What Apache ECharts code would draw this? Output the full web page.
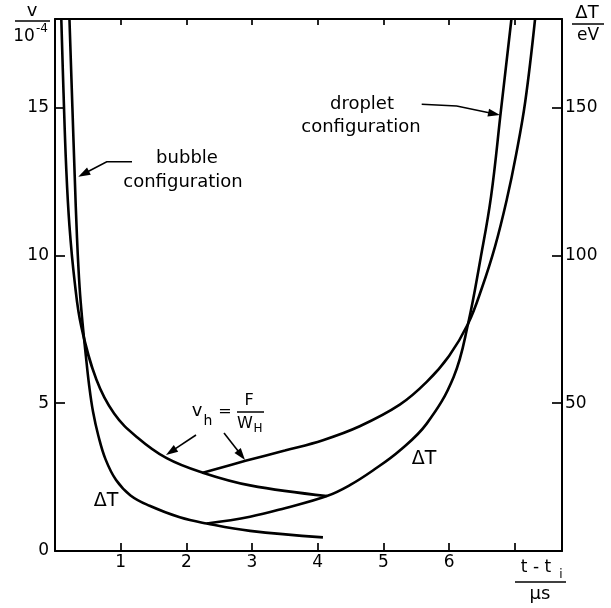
<!DOCTYPE html>
<html>
<head>
<meta charset="utf-8">
<script src="https://cdn.jsdelivr.net/npm/echarts@6/dist/echarts.min.js"></script>
<style>
  html, body { margin: 0; padding: 0; background: #fff; }
  #chart { width: 611px; height: 608px; }
</style>
</head>
<body>
<div id="chart"></div>
<script>
// Time axis t - t_i in microseconds; v in units of 1e-4, ΔT in eV.

// Bubble configuration: hole velocity v_h = F / W_H
const bubbleVhT = [0.096, 0.13, 0.17, 0.22, 0.30, 0.40, 0.63, 0.90, 1.25, 1.70, 2.25, 2.97, 4.14];
const bubbleVh  = [18, 15.5, 13, 11, 9.1, 7.6, 5.8, 4.65, 3.85, 3.14, 2.65, 2.22, 1.86];

// Bubble configuration: temperature rise ΔT (eV)
const bubbleDtT = [0.22, 0.265, 0.30, 0.335, 0.375, 0.42, 0.47, 0.52, 0.58, 0.66, 0.77, 0.93, 1.15, 1.44, 1.90, 2.31, 2.97, 4.08];
const bubbleDt  = [180, 150, 127, 106, 89, 77, 66, 56, 47, 39, 31, 24, 18.8, 15.3, 11.4, 9.3, 6.8, 4.6];

// Droplet configuration: hole velocity v_h
const dropletVhT = [2.25, 2.90, 3.50, 4.08, 4.64, 5.25, 5.66, 6.00, 6.29, 6.50, 6.70, 6.88, 7.02, 7.16, 7.31];
const dropletVh  = [2.65, 3.05, 3.40, 3.75, 4.22, 4.95, 5.72, 6.60, 7.69, 8.9, 10.3, 11.9, 13.4, 15.2, 18];

// Droplet configuration: temperature rise ΔT (eV)
const dropletDtT = [2.31, 2.97, 3.50, 4.14, 4.49, 4.85, 5.25, 5.66, 6.07, 6.29, 6.48, 6.64, 6.79, 6.95];
const dropletDt  = [9.3, 11.6, 14.5, 18.6, 22.3, 27.4, 34, 43.1, 58.9, 76.9, 99, 120, 149, 180];

// Tick labels
const timeTickLabels = [1, 2, 3, 4, 5, 6];
const vTickLabels = [0, 5, 10, 15];
const dtTickLabels = [50, 100, 150];

const FONT = 'DejaVu Sans';
const INK = '#000';

function pairs(xs, ys) { return xs.map((x, i) => [x, ys[i]]); }

function curve(name, xs, ys, yAxisIndex) {
  return {
    name, type: 'line', xAxisIndex: 0, yAxisIndex,
    data: pairs(xs, ys),
    smooth: 0.4,
    showSymbol: false, silent: true,
    lineStyle: { color: INK, width: 2.6 },
    z: 3
  };
}

function txt(text, x, y, size, align) {
  return {
    type: 'text', x, y, silent: true,
    style: { text, fontSize: size, fontFamily: FONT, fill: INK,
             textAlign: align || 'center', textVerticalAlign: 'middle' }
  };
}

function rule(x1, y1, x2, y2, w) {
  return { type: 'line', silent: true,
           shape: { x1, y1, x2, y2 },
           style: { stroke: INK, lineWidth: w || 1.5 } };
}

// Polyline ending in a filled arrowhead at its last point
function arrow(points) {
  const tip = points[points.length - 1];
  const from = points[points.length - 2];
  const dx = tip[0] - from[0], dy = tip[1] - from[1];
  const L = Math.hypot(dx, dy), ux = dx / L, uy = dy / L;
  const len = 12, w = 4;
  const bx = tip[0] - ux * len, by = tip[1] - uy * len;
  return [
    { type: 'polyline', silent: true,
      shape: { points: points.slice(0, -1).concat([[bx + ux * 2, by + uy * 2]]) },
      style: { stroke: INK, lineWidth: 1.6, fill: null } },
    { type: 'polygon', silent: true,
      shape: { points: [tip, [bx - uy * w, by + ux * w], [bx + uy * w, by - ux * w]] },
      style: { fill: INK } }
  ];
}

const chart = echarts.init(document.getElementById('chart'), null, { renderer: 'canvas' });

const axisLine = { show: true, onZero: false, lineStyle: { color: INK, width: 2 } };
const tickStyle = { color: INK, width: 1.7 };

chart.setOption({
  animation: false,
  backgroundColor: '#fff',
  grid: { left: 55, right: 49, top: 19, bottom: 57 },
  xAxis: [
    {
      type: 'value', position: 'bottom', min: 0, max: 7.72, interval: 1,
      axisLine, splitLine: { show: false },
      axisTick: { show: true, inside: true, length: 8, lineStyle: tickStyle },
      axisLabel: {
        color: INK, fontFamily: FONT, fontSize: 17, margin: 3,
        formatter: v => timeTickLabels.includes(v) ? String(v) : ''
      }
    },
    {
      type: 'value', position: 'top', min: 0, max: 7.72, interval: 1,
      axisLine, splitLine: { show: false },
      axisTick: { show: true, inside: true, length: 6, lineStyle: tickStyle },
      axisLabel: { show: false }
    }
  ],
  yAxis: [
    {
      type: 'value', position: 'left', min: 0, max: 18, interval: 5,
      axisLine, splitLine: { show: false },
      axisTick: { show: true, inside: true, length: 10, lineStyle: tickStyle },
      axisLabel: {
        color: INK, fontFamily: FONT, fontSize: 17, margin: 6,
        formatter: v => vTickLabels.includes(v) ? String(v) : ''
      }
    },
    {
      type: 'value', position: 'right', min: 0, max: 180, interval: 50,
      axisLine, splitLine: { show: false },
      axisTick: { show: true, inside: true, length: 10, lineStyle: tickStyle },
      axisLabel: {
        color: INK, fontFamily: FONT, fontSize: 17, margin: 3,
        formatter: v => dtTickLabels.includes(v) ? String(v) : ''
      }
    }
  ],
  series: [
    curve('bubble v_h', bubbleVhT, bubbleVh, 0),
    curve('bubble ΔT', bubbleDtT, bubbleDt, 1),
    curve('droplet v_h', dropletVhT, dropletVh, 0),
    curve('droplet ΔT', dropletDtT, dropletDt, 1)
  ],
  graphic: [
    // left axis title: v / 10^-4
    txt('v', 32, 11, 18),
    rule(15, 21, 50, 21),
    txt('10', 24, 37, 17),
    txt('-4', 42, 29, 12),
    // right axis title: ΔT / eV
    txt('ΔT', 587, 13, 18),
    rule(572, 24, 604, 24),
    txt('eV', 588, 36, 17),
    // time axis title: (t - t_i) / μs
    txt('t - t', 536, 568, 17),
    txt('i', 561, 575, 12),
    rule(515, 582, 566, 582),
    txt('μs', 540, 594, 18),
    // configuration labels
    txt('bubble', 187, 158, 18),
    txt('configuration', 183, 182, 18),
    ...arrow([[132, 161.7], [106.7, 161.7], [78.3, 176.7]]),
    txt('droplet', 362, 104, 18),
    txt('configuration', 361, 127, 18),
    ...arrow([[421.7, 104.3], [456.7, 106], [500, 115]]),
    // hole velocity label v_h = F / W_H
    txt('v', 197, 411, 18),
    txt('h', 208, 421, 14),
    txt('=', 225, 412, 16),
    txt('F', 249, 401, 16),
    rule(237, 412, 264, 412),
    txt('W', 245, 424, 16),
    txt('H', 258, 429, 12),
    ...arrow([[196, 435], [166, 455]]),
    ...arrow([[224, 433], [245, 460]]),
    // ΔT curve labels
    txt('ΔT', 106, 501, 19),
    txt('ΔT', 424, 459, 19)
  ]
});
</script>
</body>
</html>
